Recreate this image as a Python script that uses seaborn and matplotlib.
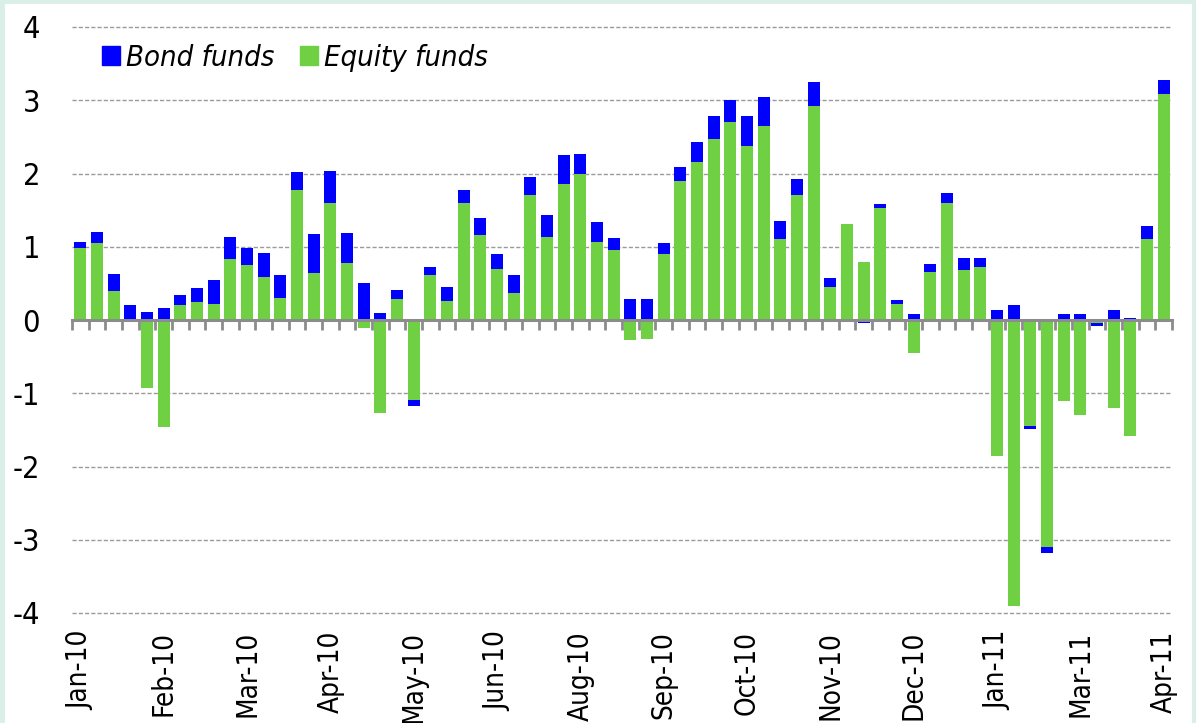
import numpy as np
import pandas as pd
import matplotlib
matplotlib.use("Agg")
import matplotlib.pyplot as plt
import matplotlib.patches as mpatches
import seaborn as sns

# ── data (weekly flows, Jan-10 .. Apr-11) ─────────────────────────────────────
equity = [0.98, 1.05, 0.40, 0.00, -0.93, -1.46, 0.20, 0.25, 0.22, 0.83,
          0.75, 0.59, 0.30, 1.78, 0.64, 1.60, 0.78, -0.11, -1.27, 0.28,
          -1.09, 0.62, 0.26, 1.60, 1.16, 0.70, 0.37, 1.70, 1.13, 1.85,
          1.99, 1.06, 0.95, -0.27, -0.26, 0.90, 1.90, 2.16, 2.47, 2.70,
          2.38, 2.65, 1.10, 1.70, 2.92, 0.45, 1.31, 0.79, 1.53, 0.22,
          -0.45, 0.66, 1.60, 0.68, 0.73, -1.86, -3.90, -1.45, -3.10, -1.11,
          -1.30, -0.04, -1.20, -1.59, 1.10, 3.08]
bond = [0.08, 0.15, 0.23, 0.20, 0.11, 0.16, 0.14, 0.19, 0.32, 0.30,
        0.23, 0.32, 0.32, 0.24, 0.53, 0.44, 0.41, 0.50, 0.10, 0.13,
        -0.09, 0.10, 0.19, 0.17, 0.23, 0.20, 0.24, 0.25, 0.31, 0.40,
        0.27, 0.28, 0.17, 0.28, 0.28, 0.15, 0.19, 0.27, 0.32, 0.31,
        0.41, 0.39, 0.25, 0.22, 0.33, 0.12, -0.02, -0.04, 0.05, 0.05,
        0.08, 0.11, 0.14, 0.17, 0.12, 0.14, 0.20, -0.04, -0.08, 0.08,
        0.08, -0.04, 0.14, 0.03, 0.19, 0.20]
month_labels = ["Jan-10", "Feb-10", "Mar-10", "Apr-10", "May-10", "Jun-10",
                "Aug-10", "Sep-10", "Oct-10", "Nov-10", "Dec-10", "Jan-11",
                "Mar-11", "Apr-11"]
label_every = 5
y_ticks = [-4, -3, -2, -1, 0, 1, 2, 3, 4]

BLUE  = "#0000FF"
GREEN = "#6ED042"
MINT  = "#DAEFE7"
GREY  = "#8C8C8C"

sns.set_theme(style="white")
plt.rcParams["font.family"] = ["DejaVu Sans"]
plt.rcParams["font.stretch"] = "condensed"
plt.rcParams["axes.unicode_minus"] = False

eq = np.array(equity)
bd = np.array(bond)
n = len(eq)
idx = np.arange(n)
# Excel-style stacking: bond sits on equity only when both share a sign
same_sign = np.sign(eq) * np.sign(bd) >= 0
outer = np.where(same_sign, eq + bd, bd)
df = pd.DataFrame({"week": idx, "outer": outer, "equity": eq})

fig = plt.figure(figsize=(11.96, 7.23), dpi=100, facecolor=MINT)
fig.add_artist(mpatches.Rectangle((5 / 1196, 0), 1187 / 1196, 719 / 723,
                                  transform=fig.transFigure,
                                  facecolor="white", edgecolor="none", zorder=-10))
ax = fig.add_axes([72 / 1196, 1 - 613 / 723, 1100 / 1196, 586 / 723])
ax.set_facecolor("none")

sns.barplot(data=df, x="week", y="outer", color=BLUE, saturation=1,
            width=0.72, linewidth=0, ax=ax)
sns.barplot(data=df, x="week", y="equity", color=GREEN, saturation=1,
            width=0.72, linewidth=0, ax=ax)

ax.set_xlim(-0.5, n - 0.5)
ax.set_ylim(-4, 4)
ax.set_xlabel("")
ax.set_ylabel("")

# grid
ax.set_yticks(y_ticks)
ax.set_yticklabels([str(t) for t in y_ticks], fontsize=22, color="black")
ax.yaxis.grid(True, linestyle=(0, (3, 1.5)), linewidth=1.0, color="#9A9A9A")
for gl in ax.get_ygridlines():
    gl.set_clip_on(False)
ax.xaxis.grid(False)
ax.set_axisbelow(True)
ax.tick_params(axis="y", length=0, pad=23)

# zero axis with boundary tick marks
for s in ["top", "right", "left"]:
    ax.spines[s].set_visible(False)
ax.spines["bottom"].set_position(("data", 0))
ax.spines["bottom"].set_color(GREY)
ax.spines["bottom"].set_linewidth(2.2)
ax.spines["bottom"].set_zorder(3)
ax.set_xticks(idx[::label_every])
ax.set_xticklabels(month_labels, rotation=90, fontsize=20, color="black",
                   va="top", ha="center")
ax.set_xticks(np.arange(n + 1) - 0.5, minor=True)
ax.tick_params(axis="x", which="major", length=0, pad=224)
ax.tick_params(axis="x", which="minor", length=7, width=2, color=GREY,
               direction="out", bottom=True)

# legend
handles = [mpatches.Patch(color=BLUE, label="Bond funds"),
           mpatches.Patch(color=GREEN, label="Equity funds")]
leg = ax.legend(handles=handles, loc="center left", bbox_to_anchor=(0.027, 0.947),
                ncol=2, frameon=False, borderpad=0, borderaxespad=0,
                handlelength=0.62, handleheight=0.62, handletextpad=0.2,
                columnspacing=0.9, labelcolor="black",
                prop={"size": 21, "style": "italic", "stretch": "condensed"})

fig.savefig("out.png", dpi=100, facecolor=MINT)
